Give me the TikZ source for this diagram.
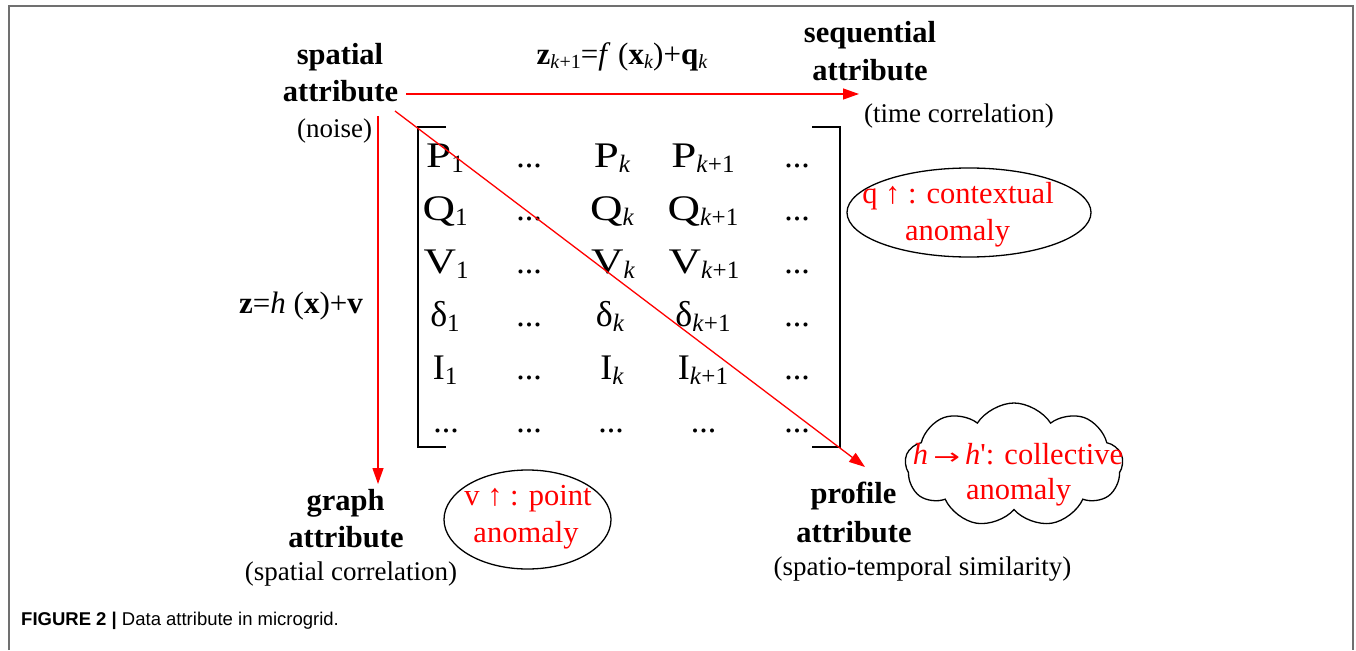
\documentclass[tikz,border=0pt]{standalone}
\usepackage{fontspec}
\usepackage{graphicx}
\setmainfont{Liberation Serif}
\newfontfamily\capfont{Liberation Sans}
\newfontfamily\symfont{DejaVu Sans}
\usetikzlibrary{arrows.meta,shapes.geometric,shapes.symbols}
\newcommand\Mx[2]{\scalebox{1.25}[1]{#1}{\fontsize{25}{25}\selectfont\raisebox{-5pt}{#2}}}
\newcommand\Mn[2]{#1{\fontsize{25}{25}\selectfont\raisebox{-5pt}{#2}}}
\newcommand\fsub[1]{{\fontsize{20}{20}\selectfont\raisebox{-4pt}{#1}}}
\begin{document}
\begin{tikzpicture}[x=1pt,y=-1pt,
  lbl/.style={inner sep=0,anchor=base,font=\fontsize{30.5}{36}\selectfont\bfseries},
  par/.style={inner sep=0,anchor=base,font=\fontsize{27}{32}\selectfont},
  eqn/.style={inner sep=0,anchor=base,font=\fontsize{31}{36}\selectfont},
  redtxt/.style={inner sep=0,anchor=base,text=red,font=\fontsize{30.5}{36}\selectfont},
  ent/.style={inner sep=0,anchor=base,font=\fontsize{36}{40}\selectfont},
  dots/.style={inner sep=0,anchor=base,font=\fontsize{34}{40}\selectfont},
  conn/.style={draw=red,line width=1.3,-{Triangle[length=16,width=11]}},
  bub/.style={draw=black,line width=1.3,inner sep=0},
  brk/.style={draw=black,line width=1.2},
]
\useasboundingbox (0,0) rectangle (1356,650);
% frame
\draw[draw={rgb,255:red,112;green,112;blue,112},line width=2] (8.5,650) -- (8.5,6.5) -- (1353,6.5) -- (1353,650);

% labels
\node[lbl] (sp1) at (340,65) {spatial};
\node[lbl] (sp2) at (340.5,102) {attribute};
\node[par] (sp3) at (334.5,137) {(noise)};
\node[lbl] (sq1) at (870,43) {sequential};
\node[lbl] (sq2) at (870,81) {attribute};
\node[par] (sq3) at (959,123) {(time correlation)};
\node[lbl] (gr1) at (345.5,510) {graph};
\node[lbl] (gr2) at (346,547) {attribute};
\node[par] (gr3) at (351,580) {(spatial correlation)};
\node[lbl] (pr1) at (853.5,503) {profile};
\node[lbl] (pr2) at (854,542) {attribute};
\node[par] (pr3) at (922.5,575) {(spatio-temporal similarity)};

% equations
\node[eqn] (feq) at (622,65) {\textbf{z}\fsub{\textit{k}+1}=\textit{f} (\textbf{x}\fsub{\textit{k}})+\textbf{q}\fsub{\textit{k}}};
\node[eqn] (heq) at (301,313) {\textbf{z}=\textit{h} (\textbf{x})+\textbf{v}};

% arrows
\coordinate (hs) at (406,94);
\coordinate (he) at (859,94);
\coordinate (vs) at (378,116);
\coordinate (ve) at (378,484);
\coordinate (ds) at (395,111);
\coordinate (de) at (865,467);

% matrix brackets
\coordinate (bl1) at (446,127); \coordinate (bl2) at (418,127);
\coordinate (bl3) at (418,447); \coordinate (bl4) at (446,447);
\coordinate (br1) at (812,127); \coordinate (br2) at (840,127);
\coordinate (br3) at (840,447); \coordinate (br4) at (812,447);
\draw[brk] (bl1) -- (bl2) -- (bl3) -- (bl4);
\draw[brk] (br1) -- (br2) -- (br3) -- (br4);

% matrix entries
\node[ent] (m11) at (445,167) {\Mx{P}{1}};
\node[dots] (m12) at (529,167) {...};
\node[ent] (m13) at (612,167) {\Mx{P}{\textit{k}}};
\node[ent] (m14) at (703,167) {\Mx{P}{\textit{k}+1}};
\node[dots] (m15) at (797,167) {...};

\node[ent] (m21) at (445,220) {\Mx{Q}{1}};
\node[dots] (m22) at (529,220) {...};
\node[ent] (m23) at (612,220) {\Mx{Q}{\textit{k}}};
\node[ent] (m24) at (703,220) {\Mx{Q}{\textit{k}+1}};
\node[dots] (m25) at (797,220) {...};

\node[ent] (m31) at (446,273) {\Mx{V}{1}};
\node[dots] (m32) at (529,273) {...};
\node[ent] (m33) at (613,273) {\Mx{V}{\textit{k}}};
\node[ent] (m34) at (704,273) {\Mx{V}{\textit{k}+1}};
\node[dots] (m35) at (797,273) {...};

\node[ent] (m41) at (445,326) {\Mn{δ}{1}};
\node[dots] (m42) at (529,326) {...};
\node[ent] (m43) at (610,326) {\Mn{δ}{\textit{k}}};
\node[ent] (m44) at (703,326) {\Mn{δ}{\textit{k}+1}};
\node[dots] (m45) at (797,326) {...};

\node[ent] (m51) at (445,379) {\Mn{I}{1}};
\node[dots] (m52) at (529,379) {...};
\node[ent] (m53) at (612,379) {\Mn{I}{\textit{k}}};
\node[ent] (m54) at (703,379) {\Mn{I}{\textit{k}+1}};
\node[dots] (m55) at (797,379) {...};

\node[dots] (m61) at (446,432) {...};
\node[dots] (m62) at (529,432) {...};
\node[dots] (m63) at (611,432) {...};
\node[dots] (m64) at (703.5,432) {...};
\node[dots] (m65) at (797,432) {...};

\draw[conn] (hs) -- (he);
\draw[conn] (vs) -- (ve);
\draw[conn] (ds) -- (de);

% anomaly shapes
\node[bub,ellipse,minimum width=244,minimum height=89] (ctx) at (969,212.5) {};
\node[bub,ellipse,minimum width=167,minimum height=99] (pnt) at (527.5,519.5) {};
\node[bub,cloud,cloud puffs=9,cloud puff arc=115,cloud ignores aspect,minimum width=218,minimum height=124] (cld) at (1014,465) {};

\node[redtxt] (ctx1) at (958,203) {q ↑ : contextual};
\node[redtxt] (ctx2) at (957.5,240) {anomaly};
\node[redtxt] (pnt1) at (528,505) {v ↑ : point};
\node[redtxt] (pnt2) at (526,542) {anomaly};
\node[redtxt] (cld1) at (1018,464) {\textit{h}\,{\symfont\fontsize{22}{26}\selectfont\scalebox{1.45}[1]{→}}\,\textit{h}\textquotesingle: collective};
\node[redtxt] (cld2) at (1018.5,499) {anomaly};

% caption
\node[anchor=base west,inner sep=0,font=\capfont\fontsize{18.5}{21}\selectfont] (cap) at (21,625) {\textbf{FIGURE 2 |} Data attribute in microgrid.};
\end{tikzpicture}
\end{document}
